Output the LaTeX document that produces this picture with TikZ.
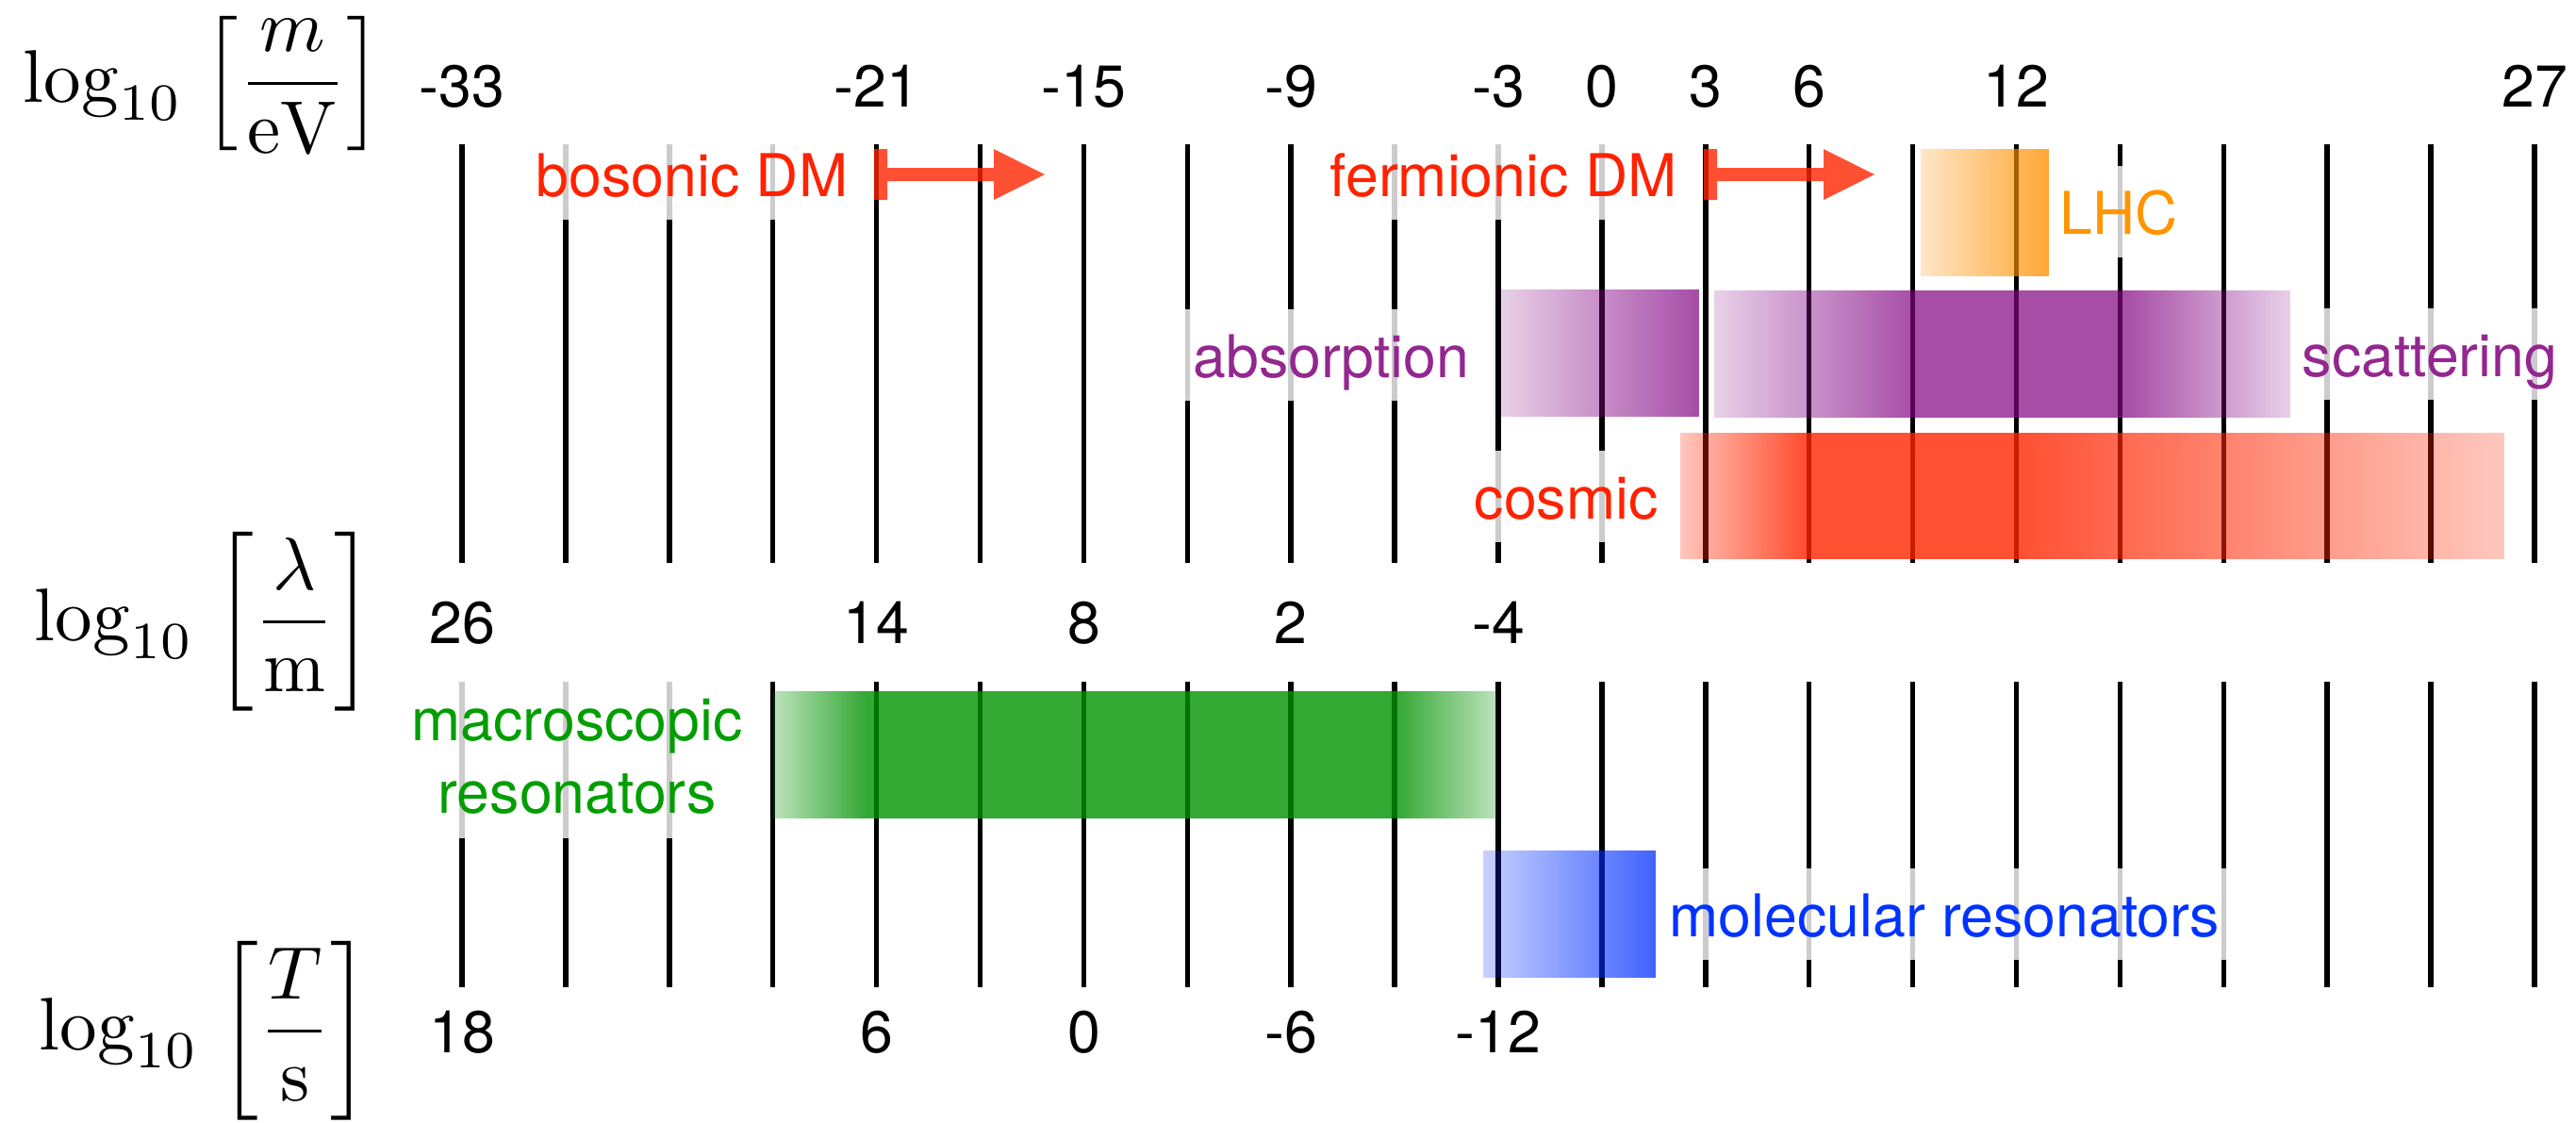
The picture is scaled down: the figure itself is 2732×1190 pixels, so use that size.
\documentclass[tikz,border=0pt]{standalone}
\usepackage{graphicx}
\usepackage[no-math]{fontspec}
\newfontfamily\hv{TeX Gyre Heros}
\usetikzlibrary{fadings}
\definecolor{cpurple}{RGB}{128,0,128}
\definecolor{cred}{RGB}{255,36,0}
\definecolor{corange}{RGB}{255,144,0}
\definecolor{cgreen}{RGB}{0,146,0}
\definecolor{cblue}{RGB}{0,45,255}
\definecolor{tred}{RGB}{255,34,0}
\definecolor{tpurple}{RGB}{147,39,143}
\definecolor{torange}{RGB}{255,149,0}
\definecolor{tgreen}{RGB}{0,158,0}
\definecolor{tblue}{RGB}{0,51,255}
% fadings (opacity = 1 - x/100 for pgftransparent!x); the path spans 25bp..75bp
\pgfdeclarehorizontalshading{shAbs}{100bp}{color(0bp)=(pgftransparent!82); color(25bp)=(pgftransparent!82); color(75bp)=(pgftransparent!30); color(100bp)=(pgftransparent!30)}
\pgfdeclarefading{fAbs}{\pgfuseshading{shAbs}}
\pgfdeclarehorizontalshading{shScat}{100bp}{color(0bp)=(pgftransparent!82); color(25bp)=(pgftransparent!82); color(42.5bp)=(pgftransparent!30); color(60.5bp)=(pgftransparent!30); color(75bp)=(pgftransparent!82); color(100bp)=(pgftransparent!82)}
\pgfdeclarefading{fScat}{\pgfuseshading{shScat}}
\pgfdeclarehorizontalshading{shCos}{100bp}{color(0bp)=(pgftransparent!75); color(25bp)=(pgftransparent!75); color(32.5bp)=(pgftransparent!20); color(45.5bp)=(pgftransparent!20); color(75bp)=(pgftransparent!75); color(100bp)=(pgftransparent!75)}
\pgfdeclarefading{fCos}{\pgfuseshading{shCos}}
\pgfdeclarehorizontalshading{shLHC}{100bp}{color(0bp)=(pgftransparent!78); color(25bp)=(pgftransparent!78); color(75bp)=(pgftransparent!20); color(100bp)=(pgftransparent!20)}
\pgfdeclarefading{fLHC}{\pgfuseshading{shLHC}}
\pgfdeclarehorizontalshading{shGreen}{100bp}{color(0bp)=(pgftransparent!75); color(25bp)=(pgftransparent!75); color(31.5bp)=(pgftransparent!20); color(68bp)=(pgftransparent!20); color(75bp)=(pgftransparent!75); color(100bp)=(pgftransparent!75)}
\pgfdeclarefading{fGreen}{\pgfuseshading{shGreen}}
\pgfdeclarehorizontalshading{shBlue}{100bp}{color(0bp)=(pgftransparent!78); color(25bp)=(pgftransparent!78); color(75bp)=(pgftransparent!25); color(100bp)=(pgftransparent!25)}
\pgfdeclarefading{fBlue}{\pgfuseshading{shBlue}}
\tikzset{
  gridline/.style={line width=0.055cm, black},
  num/.style={font=\hv\fontsize{17.8}{21.9}\selectfont, inner sep=0pt, anchor=base},
  lab/.style={font=\hv\fontsize{17.8}{21.9}\selectfont, inner xsep=0.12cm, inner ysep=0pt,
    text height=0.72cm, text depth=0.25cm, fill=white, fill opacity=0.8, text opacity=1, anchor=base west},
  labml/.style={font=\hv\fontsize{17.8}{21.9}\selectfont, align=center, inner xsep=0.12cm, inner ysep=0pt,
    fill=white, fill opacity=0.8, text opacity=1},
  mathlab/.style={inner sep=0pt, anchor=base west},
  darrow/.style={fill=cred, fill opacity=0.8}
}
\newcommand{\bigmath}[1]{\scalebox{2.25}{$\displaystyle #1$}}
\begin{document}
\begin{tikzpicture}[x=0.01cm,y=-0.01cm]
\useasboundingbox (0,0) rectangle (2732,1190);
% grid lines
\foreach \k in {0,...,20}{
  \draw[gridline] ({490+109.9*\k},153) -- ({490+109.9*\k},597);
  \draw[gridline] ({490+109.9*\k},723) -- ({490+109.9*\k},1047);
}
% axis labels
\node[mathlab] (lblm) at (24,108) {\bigmath{\log_{10}\mkern2mu\Big[\frac{m}{\mathrm{eV}}\Big]}};
\node[mathlab] (lbll) at (36,679) {\bigmath{\log_{10}\mkern2mu\bigg[\frac{\lambda}{\mathrm{m}}\bigg]}};
\node[mathlab] (lblt) at (41,1113) {\bigmath{\log_{10}\mkern2mu\bigg[\frac{T}{\mathrm{s}}\bigg]}};
% numbers
\foreach \k/\t [count=\i] in {0/-33,4/-21,6/-15,8/-9,10/-3,11/0,12/3,13/6,15/12,20/27}
  \node[num] (mass\i) at ({490+109.9*\k},113) {\t};
\foreach \k/\t [count=\i] in {0/26,4/14,6/8,8/2,10/-4}
  \node[num] (wl\i) at ({490+109.9*\k},682) {\t};
\foreach \k/\t [count=\i] in {0/18,4/6,6/0,8/-6,10/-12}
  \node[num] (tm\i) at ({490+109.9*\k},1116) {\t};
% text labels
\node[lab, text=tred] (bos) at (556,208) {bosonic DM};
\node[lab, text=tred] (ferm) at (1398,208) {fermionic DM};
\node[lab, text=torange] (lhc) at (2172,248) {LHC};
\node[lab, text=tpurple] (abs) at (1253,400) {absorption};
\node[lab, text=tpurple] (scat) at (2429,399) {scattering};
\node[lab, text=tred] (cos) at (1551,550) {cosmic};
\node[lab, text=tblue] (mol) at (1758,993) {molecular resonators};
\node[labml, text=tgreen, anchor=north] (mac) at (612,721) {\rule{0pt}{0.64cm}macroscopic\\resonators\rule[-0.26cm]{0pt}{0.26cm}};
% boxes
\fill[corange, path fading=fLHC, fit fading=true] (2037,158) rectangle (2173,293);
\fill[cpurple, path fading=fAbs, fit fading=true] (1591,307) rectangle (1802,442);
\fill[cpurple, path fading=fScat, fit fading=true] (1818,308) rectangle (2429,443);
\fill[cred, path fading=fCos, fit fading=true] (1782,459) rectangle (2656,593);
\fill[cgreen, path fading=fGreen, fit fading=true] (820,733) rectangle (1587,868);
\fill[cblue, path fading=fBlue, fit fading=true] (1573,902) rectangle (1756,1037);
% arrows
\foreach \x in {927,1807}{
  \fill[darrow] (\x,158) -- ({\x+14},158) -- ({\x+14},178) -- ({\x+127},178) -- ({\x+127},158)
    -- ({\x+181},185) -- ({\x+127},212) -- ({\x+127},192) -- ({\x+14},192) -- ({\x+14},212)
    -- (\x,212) -- cycle;
}
\end{tikzpicture}
\end{document}
